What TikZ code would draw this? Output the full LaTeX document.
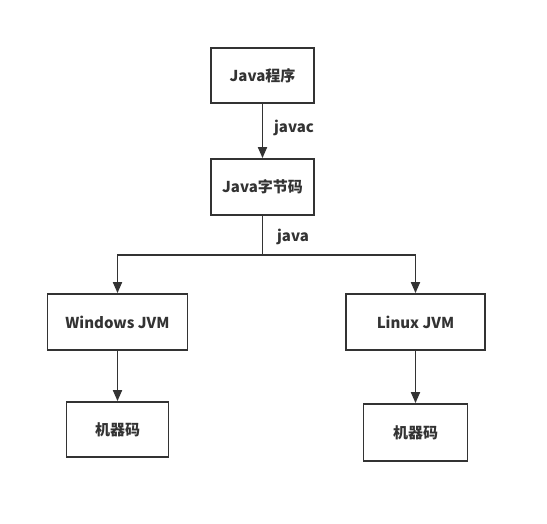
\documentclass[tikz,border=0pt]{standalone}
\usepackage{fontspec}
\setmainfont{Noto Sans CJK SC}
\usetikzlibrary{arrows.meta}
\definecolor{ink}{HTML}{333333}
\tikzset{
  box/.style={draw=ink, line width=1.8pt, rectangle, inner sep=0pt, text=ink,
    font=\fontsize{15}{18}\selectfont\bfseries},
  conn/.style={draw=ink, line width=1.8pt, -{Triangle[length=11pt,width=9pt]}},
  lbl/.style={text=ink, font=\fontsize{15}{18}\selectfont\bfseries, inner sep=0pt}
}
\begin{document}
\begin{tikzpicture}[x=1pt,y=-1pt]
\useasboundingbox (0,0) rectangle (547,523);
\node[box, minimum width=103pt, minimum height=55pt] (prog) at (262.5,75.5) {Java程序};
\node[box, minimum width=103pt, minimum height=56pt] (byte) at (262.5,187) {Java字节码};
\node[box, minimum width=140pt, minimum height=56pt] (win) at (117.5,322) {Windows JVM};
\node[box, minimum width=139pt, minimum height=56pt] (lin) at (415.5,322) {Linux JVM};
\node[box, minimum width=102pt, minimum height=55pt] (m1) at (117.5,429.5) {机器码};
\node[box, minimum width=104pt, minimum height=57pt] (m2) at (415.5,432.5) {机器码};
\coordinate (j) at (262.5,255);
\draw[conn] (prog) -- (byte);
\draw[draw=ink, line width=1.8pt] (byte) -- (j);
\draw[conn] (j) -| (win);
\draw[conn] (j) -| (lin);
\draw[conn] (win) -- (m1);
\draw[conn] (lin) -- (m2);
\node[lbl] (l1) at (294,128) {javac};
\node[lbl] (l2) at (293,237) {java};
\end{tikzpicture}
\end{document}
